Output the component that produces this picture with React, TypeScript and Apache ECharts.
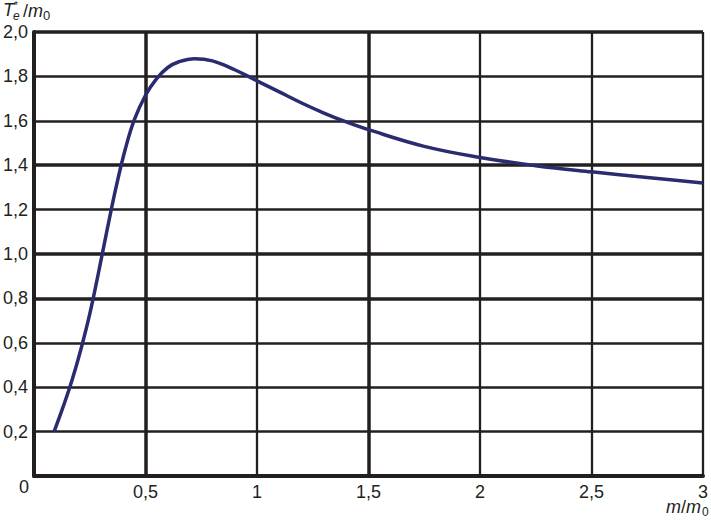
import React, { useEffect, useRef } from "react";
import * as echarts from "echarts";

const curveX = [0.09, 0.13, 0.17, 0.21, 0.25, 0.29, 0.33, 0.37, 0.41, 0.45, 0.5, 0.55, 0.6, 0.65, 0.72, 0.8, 0.9, 1.0, 1.1, 1.2, 1.3, 1.4, 1.5, 1.75, 2.0, 2.25, 2.5, 2.75, 3.0];
const curveY = [0.2, 0.31, 0.43, 0.57, 0.73, 0.92, 1.12, 1.31, 1.475, 1.605, 1.715, 1.79, 1.84, 1.866, 1.88, 1.87, 1.83, 1.78, 1.73, 1.68, 1.635, 1.595, 1.56, 1.485, 1.435, 1.398, 1.37, 1.345, 1.32];

const xGridValues = [0.5, 1, 1.5, 2, 2.5, 3];
const xGridThick = [0.5, 1.5];
const yGridValues = [0.2, 0.4, 0.6, 0.8, 1.0, 1.2, 1.4, 1.6, 1.8, 2.0];
const yGridThick = [0.8, 1.0, 1.4, 2.0];

const INK = "#231f20";
const CURVE = "#2b2c6f";
const FONT = "'Liberation Sans', Arial, sans-serif";

const fmtX = (v: number) => (v === 0 ? "" : String(Math.round(v * 10) / 10).replace(".", ","));
const fmtY = (v: number) => (v === 0 ? "" : v.toFixed(1).replace(".", ","));

export default function App() {
  const ref = useRef<HTMLDivElement>(null);
  useEffect(() => {
    if (!ref.current) return;
    const chart = echarts.init(ref.current, null, { renderer: "svg" });
    const markData: any[] = [];
    xGridValues.forEach((v) =>
      markData.push({ xAxis: v, lineStyle: { width: xGridThick.includes(v) ? 3.5 : 2.3, color: INK, type: "solid" } })
    );
    yGridValues.forEach((v) =>
      markData.push({ yAxis: v, lineStyle: { width: yGridThick.includes(v) ? 3.6 : 2.5, color: INK, type: "solid" } })
    );
    chart.setOption({
      animation: false,
      grid: { left: 34, right: 6, top: 32, bottom: 44, containLabel: false },
      xAxis: {
        type: "value",
        min: 0,
        max: 3,
        interval: 0.5,
        axisLine: { show: true, onZero: false, lineStyle: { color: INK, width: 4 } },
        axisTick: { show: false },
        splitLine: { show: false },
        axisLabel: { formatter: fmtX, color: INK, fontSize: 18, fontFamily: FONT, margin: 7, showMaxLabel: true },
      },
      yAxis: {
        type: "value",
        min: 0,
        max: 2,
        interval: 0.2,
        axisLine: { show: true, onZero: false, lineStyle: { color: INK, width: 4 } },
        axisTick: { show: false },
        splitLine: { show: false },
        axisLabel: { formatter: fmtY, color: INK, fontSize: 18, fontFamily: FONT, margin: 6 },
      },
      series: [
        {
          type: "line",
          data: [],
          z: 1,
          silent: true,
          markLine: {
            silent: true,
            symbol: ["none", "none"],
            label: { show: false },
            animation: false,
            data: markData,
          },
        },
        {
          type: "line",
          z: 5,
          smooth: 0.4,
          showSymbol: false,
          symbol: "none",
          lineStyle: { color: CURVE, width: 3.5 },
          data: curveX.map((x, i) => [x, curveY[i]]),
        },
      ],
      graphic: [
        { type: "text", x: 19, y: 478, style: { text: "0", font: `18px ${FONT}`, fill: INK } },
        { type: "text", x: 3, y: 1, style: { text: "T", font: `italic 18px ${FONT}`, fill: INK } },
        { type: "text", x: 14, y: 0, style: { text: "*", font: `10px ${FONT}`, fill: INK } },
        { type: "text", x: 13, y: 10, style: { text: "e", font: `italic 12px ${FONT}`, fill: INK } },
        { type: "text", x: 23, y: 2, style: { text: "/", font: `18px ${FONT}`, fill: INK } },
        { type: "text", x: 28, y: 2, style: { text: "m", font: `italic 18px ${FONT}`, fill: INK } },
        { type: "text", x: 43, y: 9, style: { text: "0", font: `13px ${FONT}`, fill: INK } },
        { type: "text", x: 666, y: 498, style: { text: "m", font: `italic 18px ${FONT}`, fill: INK } },
        { type: "text", x: 681, y: 498, style: { text: "/", font: `18px ${FONT}`, fill: INK } },
        { type: "text", x: 686, y: 498, style: { text: "m", font: `italic 18px ${FONT}`, fill: INK } },
        { type: "text", x: 702, y: 506, style: { text: "0", font: `12px ${FONT}`, fill: INK } },
      ],
    });
    return () => chart.dispose();
  }, []);
  return <div ref={ref} style={{ width: 711, height: 520, position: "absolute", left: 0, top: 0 }} />;
}
